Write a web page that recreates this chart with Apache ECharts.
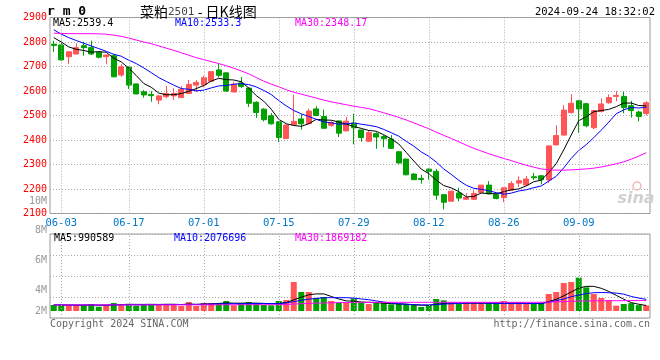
<!DOCTYPE html>
<html><head><meta charset="utf-8">
<script src="https://cdn.jsdelivr.net/npm/echarts@6/dist/echarts.min.js"></script>
<style>html,body{margin:0;padding:0;background:#fff}#c{width:660px;height:360px}</style>
</head><body><div id="c"></div>
<script>
const dates = ['05-31',
 '06-03','06-04','06-05','06-06','06-07','06-11','06-12','06-13','06-14','06-17','06-18','06-19','06-20','06-21','06-24','06-25','06-26','06-27','06-28',
 '07-01','07-02','07-03','07-04','07-05','07-08','07-09','07-10','07-11','07-12','07-15','07-16','07-17','07-18','07-19','07-22','07-23','07-24','07-25','07-26','07-29','07-30','07-31',
 '08-01','08-02','08-05','08-06','08-07','08-08','08-09','08-12','08-13','08-14','08-15','08-16','08-19','08-20','08-21','08-22','08-23','08-26','08-27','08-28','08-29','08-30',
 '09-02','09-03','09-04','09-05','09-06','09-09','09-10','09-11','09-12','09-13','09-18','09-19','09-20','09-23','09-24'];

const opens = [2791,2788,2740,2751,2785,2777,2758,2740,2744,2665,
 2697,2629,2597,2586,2563,2577,2580,2573,2590,2624,
 2625,2640,2686,2674,2596,2633,2612,2554,2526,2499,
 2474,2406,2462,2486,2467,2527,2496,2460,2478,2437,
 2469,2441,2395,2426,2414,2404,2352,2322,2261,2243,
 2281,2272,2177,2150,2184,2158,2158,2186,2216,2178,
 2165,2195,2224,2216,2250,2254,2237,2380,2420,2512,
 2560,2548,2450,2516,2552,2578,2578,2540,2514,2508];
const closes = [2786,2727,2760,2777,2777,2751,2738,2747,2658,2699,
 2624,2588,2584,2581,2580,2590,2590,2607,2627,2635,
 2654,2679,2664,2600,2628,2618,2550,2512,2483,2466,
 2410,2461,2476,2466,2518,2500,2448,2472,2428,2477,
 2450,2410,2430,2412,2405,2366,2306,2258,2238,2239,
 2272,2175,2146,2191,2163,2165,2182,2216,2180,2161,
 2205,2222,2234,2241,2246,2238,2376,2418,2522,2550,
 2527,2458,2520,2547,2573,2582,2532,2520,2496,2552];
const lows = [2760,2722,2710,2749,2744,2747,2733,2709,2656,2658,
 2608,2587,2573,2556,2546,2570,2563,2573,2590,2596,
 2616,2640,2655,2596,2595,2612,2535,2490,2476,2463,
 2392,2405,2460,2442,2464,2497,2446,2454,2412,2437,
 2382,2393,2392,2364,2370,2363,2304,2256,2237,2222,
 2238,2156,2116,2150,2150,2155,2156,2186,2178,2158,
 2146,2193,2208,2212,2237,2219,2225,2378,2418,2508,
 2430,2452,2444,2513,2548,2558,2509,2492,2476,2500];
const highs = [2805,2805,2761,2795,2801,2805,2760,2749,2750,2709,
 2699,2630,2604,2600,2583,2620,2611,2620,2645,2645,
 2662,2680,2712,2676,2638,2657,2615,2558,2530,2510,
 2476,2464,2585,2505,2528,2538,2524,2476,2479,2495,
 2507,2442,2440,2432,2420,2420,2354,2324,2265,2258,
 2284,2282,2178,2194,2205,2183,2195,2216,2232,2180,
 2207,2232,2252,2253,2266,2256,2378,2460,2542,2588,
 2562,2552,2523,2570,2586,2600,2597,2560,2520,2558];

const ma5 = [2818,2800,2780,2770,2765.4,2758.4,2760.6,2758,2734.2,2718.6,
 2693.2,2663.2,2630.6,2615.2,2591.4,2584.6,2585,2589.6,2598.8,2609.8,
 2622.6,2640.4,2651.8,2646.4,2645,2637.8,2612,2581.6,2558.2,2525.8,
 2484.2,2466.4,2459.2,2455.8,2466.2,2484.2,2481.6,2480.8,2473.2,2465,
 2455,2447.4,2439,2435.8,2421.4,2404.6,2383.8,2349.4,2314.6,2281.4,
 2262.6,2236.4,2214,2204.6,2189.4,2168,2169.4,2183.4,2181.2,2180.8,
 2188.8,2196.8,2200.4,2212.6,2229.6,2236.2,2267,2303.8,2360,2420.8,
 2478.6,2495,2515.4,2520.4,2525,2536,2550.8,2550.8,2540.6,2539.4];
const ma10 = [2850,2832,2818,2806,2795,2784,2773,2762,2750,2742,
 2725.8,2711.9,2694.3,2674.7,2655,2638.9,2624.1,2610.1,2607,2600.6,
 2603.6,2612.7,2620.7,2622.6,2627.4,2630.2,2626.2,2616.7,2602.3,2585.4,
 2561,2539.2,2520.4,2507,2496,2484.2,2474,2470,2464.5,2465.6,
 2469.6,2464.5,2459.9,2454.5,2443.2,2429.8,2415.6,2394.2,2375.2,2351.4,
 2333.6,2310.1,2281.7,2259.6,2235.4,2215.3,2202.9,2198.7,2192.9,2185.1,
 2178.4,2183.1,2191.9,2196.9,2205.2,2212.5,2231.9,2252.1,2286.3,2325.2,
 2357.4,2381,2409.6,2440.2,2472.9,2507.3,2522.9,2533.1,2530.5,2533.3];
const ma30 = [2836,2835,2834,2834,2834,2834,2833,2832,2828,2823,
 2816,2808,2800,2793,2784,2775,2766,2756,2746,2736,
 2728,2720,2712,2703,2693,2682,2670,2655,2640,2628,
 2617,2605,2595,2587,2579,2571,2563,2556,2550,2544,
 2538,2533,2528,2520,2511,2502,2492,2482,2470,2458,
 2446,2432,2419,2406,2393,2379,2366,2355,2344,2334,
 2325,2316,2306,2297,2289,2282,2278,2277,2277,2278,
 2280,2282,2285,2290,2296,2303,2311,2322,2334,2348.17];

// volume in millions
const volumes = [1.07,1.07,1.0,1.07,1.07,1.25,0.77,1.07,1.43,1.25,
 1.25,0.95,1.07,1.25,1.25,1.25,1.25,0.89,1.61,0.89,
 1.43,1.43,1.43,1.79,1.01,1.43,1.61,1.43,1.07,1.01,
 1.79,1.96,5.18,3.39,3.39,2.32,2.5,1.79,1.49,1.49,
 2.26,1.49,1.25,1.49,1.49,1.19,1.25,1.25,1.07,0.71,
 1.01,2.14,1.9,1.49,1.25,1.49,1.49,1.49,1.49,1.49,
 1.79,1.49,1.49,1.25,1.25,1.49,3.04,3.39,5.0,5.18,
 5.95,4.23,3.04,2.32,1.96,0.95,1.25,1.4,1.05,1.0];
const volMa5 = [1.10,1.08,1.06,1.05,1.05,1.09,1.04,1.04,1.10,1.15,
 1.20,1.18,1.18,1.19,1.17,1.20,1.20,1.15,1.25,1.18,
 1.25,1.25,1.35,1.45,1.40,1.40,1.42,1.40,1.35,1.30,
 1.38,1.50,2.00,2.45,2.90,3.05,3.05,2.60,2.15,1.80,
 1.75,1.60,1.55,1.50,1.40,1.32,1.27,1.22,1.12,1.05,
 1.02,1.20,1.35,1.40,1.42,1.42,1.40,1.40,1.40,1.45,
 1.48,1.45,1.45,1.40,1.35,1.30,1.70,2.10,2.70,3.40,
 4.10,4.40,4.40,4.05,3.50,2.80,2.10,1.50,1.20,0.99];
const volMa10 = [1.12,1.10,1.08,1.07,1.07,1.07,1.06,1.06,1.08,1.10,
 1.12,1.12,1.12,1.13,1.14,1.15,1.16,1.15,1.18,1.18,
 1.20,1.24,1.28,1.30,1.30,1.30,1.32,1.35,1.35,1.33,
 1.30,1.45,1.67,1.90,2.12,2.25,2.36,2.38,2.38,2.38,
 2.30,2.15,2.02,1.80,1.60,1.42,1.30,1.20,1.12,1.08,
 1.07,1.15,1.25,1.30,1.35,1.40,1.43,1.42,1.40,1.36,
 1.33,1.32,1.33,1.33,1.34,1.37,1.55,1.85,2.15,2.55,
 2.86,3.10,3.27,3.30,3.27,3.20,3.00,2.60,2.30,2.08];
const volMa30 = [1.08,1.08,1.08,1.08,1.08,1.08,1.08,1.08,1.08,1.08,
 1.08,1.08,1.08,1.09,1.09,1.09,1.10,1.10,1.10,1.10,
 1.10,1.10,1.11,1.11,1.11,1.12,1.12,1.12,1.12,1.12,
 1.13,1.16,1.25,1.30,1.36,1.40,1.44,1.47,1.50,1.53,
 1.55,1.55,1.55,1.55,1.55,1.55,1.55,1.55,1.55,1.55,
 1.55,1.55,1.56,1.56,1.55,1.55,1.55,1.55,1.55,1.55,
 1.55,1.55,1.55,1.55,1.55,1.56,1.60,1.64,1.68,1.73,
 1.78,1.80,1.81,1.82,1.83,1.84,1.85,1.86,1.86,1.87];

const labelDates = ['06-03','06-17','07-01','07-15','07-29','08-12','08-26','09-09'];
const priceMin = 2100, priceMax = 2900, priceStep = 100;
const priceLegend = ['MA5:2539.4', 'MA10:2533.3', 'MA30:2348.17'];
const volLegend = ['MA5:990589', 'MA10:2076696', 'MA30:1869182'];
const volAxisLabels = ['10M', '8M', '6M', '4M', '2M'];
const headerCode = 'r m 0';
const headerName = '菜粕', headerNum = '2501', headerRest = ' - 日K线图';
const headerTime = '2024-09-24 18:32:02';
const footerLeft = 'Copyright 2024 SINA.COM';
const footerRight = 'http://finance.sina.com.cn';

const UP = '#FF5555', DOWN = '#00A000';
const MONO = '"DejaVu Sans Mono", monospace';
const GRIDC = '#aaaaaa';
const labelSet = new Set(labelDates);

const kdata = dates.map((d, i) => [opens[i], closes[i], lows[i], highs[i]]);
const vdata = volumes.map((v, i) => ({ value: v, itemStyle: { color: closes[i] >= opens[i] ? UP : DOWN } }));
const vlines = { silent: true, symbol: 'none', animation: false, label: { show: false },
  lineStyle: { color: GRIDC, type: [1, 2], width: 1 }, data: labelDates.map(d => ({ xAxis: d })) };

function lineSeries(data, color, xi, yi) {
  return { type: 'line', data, xAxisIndex: xi, yAxisIndex: yi, symbol: 'none', showSymbol: false, silent: true,
    lineStyle: { color, width: 1 }, itemStyle: { color }, animation: false, z: 3 };
}
function txt(text, x, y, color, opts) {
  opts = opts || {};
  return { type: 'text', x, y, silent: true, z: 100,
    style: Object.assign({ text, fill: color, fontFamily: MONO, fontSize: 10,
      align: 'left', textAlign: 'left', verticalAlign: 'middle', textVerticalAlign: 'middle' }, opts) };
}

const chart = echarts.init(document.getElementById('c'), null, { renderer: 'canvas' });
chart.setOption({
  animation: false,
  backgroundColor: '#fff',
  grid: [
    { left: 50, right: 10, top: 17.5, height: 196, show: true, borderColor: '#999', borderWidth: 1, backgroundColor: 'transparent' },
    { left: 50, right: 10, top: 234, height: 84, show: true, borderColor: '#999', borderWidth: 1, backgroundColor: 'transparent' }
  ],
  xAxis: [
    { type: 'category', gridIndex: 0, data: dates, boundaryGap: true,
      axisLine: { show: false }, axisTick: { show: false }, splitLine: { show: false },
      axisLabel: { interval: (i, v) => labelSet.has(v), color: '#0078C8', fontFamily: MONO, fontSize: 10.5, margin: 4 } },
    { type: 'category', gridIndex: 1, data: dates, boundaryGap: true,
      axisLine: { show: false }, axisTick: { show: false }, splitLine: { show: false }, axisLabel: { show: false } }
  ],
  yAxis: [
    { type: 'value', gridIndex: 0, min: priceMin, max: priceMax, interval: priceStep,
      axisLine: { show: false }, axisTick: { show: false },
      axisLabel: { color: '#FF0000', fontFamily: MONO, fontSize: 10, margin: 3, formatter: v => String(v) },
      splitLine: { lineStyle: { color: GRIDC, type: [1, 2], width: 1 } } },
    { type: 'value', gridIndex: 1, min: -1.25, max: 13.75, interval: 3.75,
      axisLine: { show: false }, axisTick: { show: false }, axisLabel: { show: false },
      splitLine: { lineStyle: { color: GRIDC, type: [1, 2], width: 1 } } }
  ],
  series: [
    { type: 'candlestick', xAxisIndex: 0, yAxisIndex: 0, data: kdata, barWidth: 5.5, silent: true,
      itemStyle: { color: UP, color0: DOWN, borderColor: UP, borderColor0: DOWN, borderWidth: 1 },
      markLine: vlines, animation: false },
    lineSeries(ma5, '#000000', 0, 0),
    lineSeries(ma10, '#0000FF', 0, 0),
    lineSeries(ma30, '#FF00FF', 0, 0),
    { type: 'bar', xAxisIndex: 1, yAxisIndex: 1, data: vdata, barWidth: 6, silent: true, markLine: vlines, animation: false },
    lineSeries(volMa5, '#000000', 1, 1),
    lineSeries(volMa10, '#0000FF', 1, 1),
    lineSeries(volMa30, '#FF00FF', 1, 1)
  ],
  graphic: [
    txt(headerCode, 47, 12, '#000', { fontSize: 13, fontWeight: 'bold' }),
    { type: 'text', x: 140, y: 12, silent: true, z: 100,
      style: { text: '{a|' + headerName + '}{b|' + headerNum + '}{a|' + headerRest + '}',
        verticalAlign: 'middle', textVerticalAlign: 'middle',
        rich: { a: { fontFamily: '"Noto Sans CJK SC"', fontSize: 14, fill: '#000', color: '#000' },
                b: { fontFamily: MONO, fontSize: 11, fill: '#444', color: '#444' } } } },
    txt(headerTime, 655, 12, '#000', { fontSize: 10.5, align: 'right', textAlign: 'right' }),
    txt(priceLegend[0], 53, 23, '#000'),
    txt(priceLegend[1], 175, 23, '#0000FF'),
    txt(priceLegend[2], 295, 23, '#FF00FF'),
    txt(volLegend[0], 54, 238.5, '#000'),
    txt(volLegend[1], 174, 238.5, '#0000FF'),
    txt(volLegend[2], 295, 238.5, '#FF00FF'),
    txt(volAxisLabels[0], 47, 201, '#999', { align: 'right', textAlign: 'right' }),
    txt(volAxisLabels[1], 47, 230.5, '#999', { align: 'right', textAlign: 'right' }),
    txt(volAxisLabels[2], 47, 260.5, '#999', { align: 'right', textAlign: 'right' }),
    txt(volAxisLabels[3], 47, 290.5, '#999', { align: 'right', textAlign: 'right' }),
    txt(volAxisLabels[4], 47, 311, '#999', { align: 'right', textAlign: 'right' }),
    txt(footerLeft, 50, 324, '#666'),
    txt(footerRight, 650, 324, '#666', { align: 'right', textAlign: 'right' }),
    { type: 'circle', shape: { cx: 637, cy: 186, r: 4 }, silent: true, z: 1,
      style: { fill: 'none', stroke: '#f0b8b8', lineWidth: 1.5 } },
    txt('sina', 636, 199, '#d0d0d0', { fontFamily: '"DejaVu Sans"', fontSize: 16, fontWeight: 'bold', fontStyle: 'italic', align: 'center', textAlign: 'center' })
  ]
});
</script></body></html>
